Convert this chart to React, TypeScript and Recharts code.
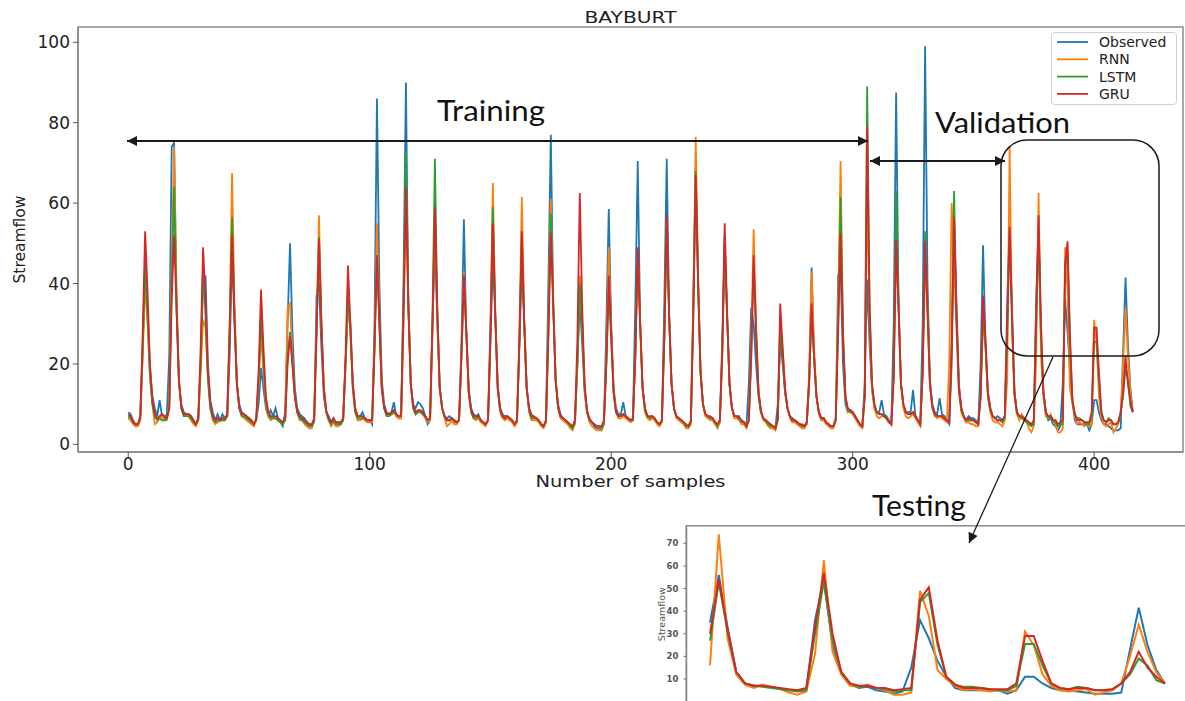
import React from "react";
import {
  LineChart,
  Line,
  XAxis,
  YAxis,
  Legend,
  Label,
  ReferenceArea,
} from "recharts";

// series names + colours (matplotlib tab10)
const SERIES = [
  { key: "obs", name: "Observed", color: "#1f77b4" },
  { key: "rnn", name: "RNN", color: "#ff7f0e" },
  { key: "lstm", name: "LSTM", color: "#2ca02c" },
  { key: "gru", name: "GRU", color: "#d62728" },
];

// training + validation part, samples 0..363 (12 per row)
const OBS_TRAIN = [
  8, 7.5, 6, 5, 5, 7, 24, 46, 33, 19, 12, 9,
  7, 11, 7, 6.5, 7.5, 22, 74, 75, 34, 15, 10, 8,
  7.5, 7.5, 7, 6, 5, 6.5, 20, 40, 42, 20, 11, 8,
  6, 7.5, 6, 7.5, 6.5, 7, 22, 48, 30, 15, 10, 8,
  7.5, 7, 6.5, 6, 5, 6, 10, 19, 14, 9, 7, 8.5,
  7, 9, 6.5, 5.5, 4.5, 8, 30, 50, 28, 14, 9, 7.5,
  7, 6.5, 5.5, 5, 4.5, 5.5, 37, 40, 24, 12, 8, 7,
  5.5, 6.5, 5, 5.5, 5, 6, 20, 35, 30, 15, 9, 7,
  7, 8, 6.5, 6, 6, 5, 30, 86, 40, 16, 10, 8,
  7.5, 8, 10.5, 7, 6.5, 6.5, 40, 90, 35, 15, 10, 9,
  10.5, 10, 9, 7, 5, 6, 30, 50, 30, 14, 9, 7,
  6.5, 7, 6.5, 5.5, 5.5, 6, 25, 56, 28, 14, 9, 7.5,
  7, 7.5, 6, 5.5, 5, 6, 25, 46, 32, 15, 9, 7.5,
  7, 7, 6, 6, 5, 5.5, 25, 45, 30, 14, 9, 7.5,
  6.5, 6.5, 6, 5, 4.5, 5.5, 40, 77, 35, 16, 10, 7.5,
  6.5, 6, 5.5, 4.5, 4, 6, 20, 36, 25, 13, 8, 6,
  5.5, 4.5, 4, 4, 3.5, 5, 30, 58.5, 30, 14, 9, 7.5,
  7.5, 10.5, 7, 6.5, 6, 6, 35, 70.5, 30, 14, 9, 7,
  6.5, 7, 6.5, 5.5, 5, 5.5, 35, 71, 32, 15, 9, 7,
  6.5, 6, 5.5, 4.5, 4.5, 5.5, 35, 69, 40, 18, 10, 7.5,
  7, 6.5, 6.5, 5.5, 4.5, 5.5, 25, 50, 32, 15, 9, 7,
  7, 7, 5.5, 5.5, 4.5, 15, 34, 30, 20, 12, 8, 6.5,
  6, 5.5, 4.5, 4.5, 4, 10, 26, 20, 13, 9, 7, 6.5,
  6, 5.5, 5, 4.5, 4.5, 5, 15, 44, 22, 12, 8, 6.5,
  6.5, 5.5, 5, 4.5, 4.5, 6, 42, 44, 20, 10, 8, 8.5,
  8, 7, 6, 5, 4.5, 15, 41, 25, 14, 9, 8, 8,
  11, 7.5, 7, 6, 5, 30, 87.5, 35, 15, 10, 8, 8,
  8, 13.5, 7, 6, 5, 30, 99, 40, 16, 10, 8, 7.5,
  11.5, 7.5, 7, 6, 5, 20, 55, 35, 15, 9, 7, 6,
  7, 6.5, 6.5, 6, 5, 20, 49.5, 25, 13, 9, 7, 6.5,
  7, 6.5, 6, 7,
];

const RNN_TRAIN = [
  6.5, 6, 5, 4.5, 4.5, 6, 22, 40, 30, 17, 10, 5,
  5.5, 6.5, 7, 6, 6, 10, 45, 74, 38, 16, 9, 7,
  7, 7, 6, 5, 4.5, 6, 18, 31, 29, 17, 9, 6,
  5, 5.5, 6, 6, 6, 7, 30, 67.5, 35, 15, 9, 7,
  6.5, 6, 5.5, 5, 4.5, 6, 15, 27, 18, 10, 7, 6,
  6.5, 6.5, 6, 5.5, 5, 6, 34, 35, 22, 12, 8, 6,
  6, 5, 4.5, 4, 4, 6, 30, 57, 30, 14, 8, 6,
  4.5, 5.5, 4.5, 4.5, 5, 6, 20, 35, 28, 14, 8, 6,
  6, 6.5, 6, 5.5, 5.5, 5.5, 25, 55, 32, 14, 9, 7,
  7, 7.5, 8, 7, 6.5, 6.5, 30, 62, 35, 15, 9, 7.5,
  8, 8, 7.5, 6.5, 5.5, 6, 28, 57, 32, 14, 9, 6.5,
  4.5, 5, 6, 5, 5, 6, 22, 43, 28, 13, 8, 6.5,
  6, 6.5, 5.5, 5, 4.5, 6, 30, 65, 33, 14, 8, 6.5,
  6, 6.5, 6, 5.5, 4.5, 5.5, 28, 61.5, 31, 14, 8, 6,
  6, 6, 5.5, 4.5, 4, 5.5, 30, 61, 36, 16, 9, 6.5,
  6, 5.5, 5, 4, 3.5, 5, 20, 42, 30, 14, 8, 5.5,
  4.5, 4, 3.5, 3.5, 3.5, 5, 22, 49, 28, 13, 8, 6.5,
  6.5, 7, 6.5, 6, 5.5, 6, 22, 47, 30, 14, 8, 6.5,
  6, 6.5, 6, 5, 4.5, 5.5, 26, 55, 32, 15, 9, 6.5,
  6, 5.5, 5, 4, 4, 5, 35, 76.5, 42, 18, 10, 7,
  6.5, 6, 6, 5, 4, 5.5, 22, 50, 32, 15, 9, 6.5,
  6.5, 6, 5, 5, 4, 6, 25, 53.5, 30, 14, 8, 6,
  5.5, 4.5, 4, 4, 3.5, 6, 31, 24, 14, 9, 6.5, 5.5,
  5.5, 5, 4.5, 4, 4, 5, 18, 43, 24, 12, 7.5, 6,
  6, 5, 4.5, 4, 4, 6, 35, 70.5, 28, 12, 8, 8,
  7.5, 6.5, 5.5, 4.5, 4, 12, 65, 30, 14, 9, 7, 6.5,
  7, 7, 6.5, 5.5, 5, 18, 48, 35, 15, 9, 7, 6.5,
  7, 7.5, 6.5, 5.5, 4.5, 18, 45, 34, 15, 9, 7, 6.5,
  7, 6.5, 6, 5.5, 20, 60, 45, 28, 13, 8, 6.5, 5.5,
  5.5, 5, 5, 4.5, 4.5, 12, 31, 24, 12, 8, 6, 5.5,
  5.5, 5, 4.5, 6,
];

const LSTM_TRAIN = [
  7, 6.5, 5.5, 5, 5, 6.5, 24, 44, 32, 17, 10, 7,
  6, 6.5, 6, 6, 6.5, 9, 40, 64, 35, 16, 9, 7,
  7, 7, 6.5, 5.5, 5, 6, 20, 44, 32, 16, 9, 6.5,
  5.5, 6, 6, 6, 6, 7, 28, 56.5, 32, 15, 9, 7,
  7, 6.5, 6, 5.5, 5, 6, 17, 32, 20, 11, 7.5, 6.5,
  6.5, 6.5, 6, 5.5, 5, 6, 22, 28, 20, 12, 8, 6.5,
  6, 5.5, 5, 4.5, 4.5, 6, 28, 51.5, 30, 14, 8, 6,
  5, 6, 5, 5, 5, 6, 20, 38, 28, 14, 8, 6.5,
  6.5, 6.5, 6.5, 6, 6, 6, 24, 47, 30, 14, 9, 7,
  7, 7.5, 8, 7.5, 7, 7, 35, 73, 36, 15, 9, 7.5,
  8, 8, 7.5, 7, 6, 6.5, 32, 71, 34, 14, 9, 7,
  6, 6, 6.5, 6, 5.5, 6, 22, 42, 28, 13, 8, 6.5,
  6.5, 7, 6, 5.5, 5, 6, 28, 59, 32, 14, 8.5, 7,
  6.5, 7, 6.5, 6, 5, 6, 25, 52, 30, 14, 8.5, 6.5,
  6.5, 6.5, 6, 5, 4.5, 6, 28, 57.5, 35, 16, 9, 7,
  6.5, 6, 5.5, 4.5, 4, 5.5, 20, 40, 30, 14, 8, 6,
  5.5, 5, 4.5, 4.5, 4, 5.5, 20, 38, 26, 13, 8, 7,
  7, 7.5, 7, 6.5, 6, 6, 22, 48, 30, 14, 8.5, 7,
  6.5, 7, 6.5, 5.5, 5, 6, 26, 55, 32, 15, 9, 7,
  6.5, 6, 5.5, 4.5, 4.5, 5.5, 32, 68, 40, 18, 10, 7.5,
  7, 6.5, 6.5, 5.5, 4.5, 6, 22, 52, 32, 15, 9, 7,
  7, 6.5, 5.5, 5.5, 4.5, 6, 22, 45, 28, 13, 8, 6.5,
  6, 5, 4.5, 4.5, 4, 6, 28, 22, 13, 9, 7, 6,
  6, 5.5, 5, 4.5, 4.5, 5.5, 16, 32, 22, 12, 8, 6.5,
  6.5, 5.5, 5, 4.5, 4.5, 6, 30, 61.5, 28, 12, 8.5, 8,
  8, 7, 6, 5, 4.5, 12, 89, 35, 15, 10, 8, 7.5,
  7.5, 7, 6.5, 5.5, 5, 18, 63, 35, 15, 10, 8, 7.5,
  7.5, 8, 7, 6, 5, 18, 53, 34, 15, 9, 7.5, 7,
  7, 7, 6.5, 6, 5.5, 25, 63, 32, 14, 8.5, 7, 6,
  6, 6, 6, 5.5, 5, 12, 33, 25, 12, 8.5, 7, 6.5,
  6, 6, 5.5, 6.5,
];

const GRU_TRAIN = [
  7.5, 7, 5.5, 5, 5, 7, 28, 53, 38, 20, 11, 7.5,
  6.5, 7, 7.5, 7, 6.5, 9, 36, 52, 34, 16, 9, 7.5,
  7.5, 7.5, 7, 6, 5, 6.5, 24, 49, 36, 18, 10, 7,
  6, 6.5, 6, 6.5, 6.5, 7.5, 28, 52, 32, 15, 9, 7.5,
  7.5, 7, 6.5, 6, 5, 6.5, 18, 38.5, 24, 12, 8, 7,
  7, 7, 6.5, 6, 5.5, 6.5, 20, 27, 20, 12, 8, 7,
  6.5, 6, 5.5, 5, 5, 6.5, 28, 51, 30, 14, 8.5, 6.5,
  5.5, 6.5, 5.5, 5.5, 5.5, 6.5, 22, 44.5, 30, 15, 9, 7,
  7, 7, 6.5, 6, 6, 6, 24, 47, 30, 14, 9, 7.5,
  7.5, 8, 8.5, 7.5, 7, 7, 32, 64, 34, 15, 9.5, 8,
  8.5, 8.5, 8, 7, 6, 6.5, 30, 59, 33, 14, 9, 7,
  6, 6, 6.5, 6, 5.5, 6, 22, 42, 28, 13, 8.5, 7,
  7, 7, 6, 5.5, 5, 6, 27, 55, 32, 14, 9, 7,
  6.5, 7, 6.5, 6, 5, 6, 26, 53, 30, 14, 9, 7,
  7, 6.5, 6, 5, 4.5, 6, 27, 52.6, 34, 16, 9.5, 7,
  6.5, 6, 5.5, 5, 4.5, 6, 26, 62.5, 34, 15, 8.5, 6.5,
  5.5, 5, 4.5, 4.5, 4.5, 6, 20, 42, 28, 13, 8, 7,
  7, 7.5, 7, 6.5, 6, 6.5, 22, 49, 30, 14, 9, 7,
  7, 7, 6.5, 5.5, 5, 6, 27, 57, 32, 15, 9, 7,
  6.5, 6, 5.5, 5, 4.5, 6, 32, 67, 40, 18, 10, 7.5,
  7, 7, 6.5, 5.5, 5, 6, 24, 55, 33, 15, 9, 7,
  7, 6.5, 6, 5.5, 4.5, 6, 22, 47, 28, 13, 8.5, 6.5,
  6, 5.5, 5, 4.5, 4, 6.5, 35, 24, 14, 9, 7, 6,
  6, 5.5, 5, 5, 4.5, 5.5, 16, 35, 22, 12, 8, 6.5,
  6.5, 5.5, 5, 4.5, 4.5, 6.5, 28, 52.5, 26, 12, 9, 8.5,
  8, 7, 6, 5, 4.5, 12, 79, 34, 15, 10, 8, 7.5,
  7.5, 7, 6.5, 5.5, 5, 16, 51, 34, 15, 10, 8, 7.5,
  7.5, 8, 7, 6, 5, 18, 50.5, 33, 15, 9.5, 7.5, 7,
  7, 7, 6.5, 6, 5.5, 24, 56.5, 32, 14, 9, 7, 6,
  6.5, 6, 6, 5.5, 5, 12, 37, 26, 13, 9, 7, 6.5,
  6, 6, 6, 7,
];

// testing part, samples 364..416 (also shown in the inset)
const OBS_TEST = [
  35, 56, 33, 13, 8, 7, 7, 6.5, 5.5, 5, 5, 5, 36, 54, 25, 13, 8, 6, 6.5, 5,
  4.5, 3.5, 4.5, 15, 36, 28, 18, 11, 6, 5, 5, 5, 5, 5, 3.5, 5, 11, 11, 8, 6,
  5, 5, 4.5, 4, 3.5, 3.5, 3.5, 4, 23, 41.5, 25, 14, 8,
];
const RNN_TEST = [
  16, 74, 28, 12, 7.5, 6, 7.5, 6.5, 5.5, 4, 3, 4.5, 21, 62.5, 22, 12, 7, 6.5, 7.5, 6,
  5, 3, 3, 4, 49, 38, 14, 10, 7, 5, 5.5, 5, 4.5, 5, 4.5, 5, 31, 25, 12, 7,
  5, 4.5, 5, 5.5, 3, 4, 5, 8, 20, 34, 22, 13, 8,
];
const LSTM_TEST = [
  27, 53, 31, 13, 8, 7, 6.5, 6, 5.5, 5, 4.5, 5, 30, 53, 27, 13, 8, 6.5, 7, 6,
  5.5, 4.5, 5, 5, 44, 48, 25, 11, 7.5, 6.5, 6.5, 6, 5.5, 5, 5, 7, 25.5, 25.5, 16, 8,
  6, 5.5, 6.5, 6, 5, 5, 5.5, 8, 12, 19, 16, 9.5, 8,
];
const GRU_TEST = [
  30, 54, 32, 13, 8, 7, 7, 6.5, 6, 5.5, 5, 6, 33, 57, 30, 13, 8, 7, 7, 6,
  6, 5, 5.5, 6, 45, 50.5, 27, 11, 7.5, 6, 6, 6, 5.5, 5.5, 5.5, 8, 29, 29, 18, 8,
  6, 5.5, 6, 6, 5, 5, 5.5, 8, 13, 22, 15, 11, 8,
];

const X_TICKS = [0, 100, 200, 300, 400];
const Y_TICKS = [0, 20, 40, 60, 80, 100];
const INSET_Y_TICKS = [0, 10, 20, 30, 40, 50, 60, 70];

const OBS = [...OBS_TRAIN, ...OBS_TEST];
const RNN = [...RNN_TRAIN, ...RNN_TEST];
const LSTM = [...LSTM_TRAIN, ...LSTM_TEST];
const GRU = [...GRU_TRAIN, ...GRU_TEST];

const mainData = OBS.map((v, i) => ({ x: i, obs: v, rnn: RNN[i], lstm: LSTM[i], gru: GRU[i] }));
const testData = OBS_TEST.map((v, i) => ({
  x: i,
  obs: v,
  rnn: RNN_TEST[i],
  lstm: LSTM_TEST[i],
  gru: GRU_TEST[i],
}));

const FONT = "DejaVu Sans";
const SPINE = "#8a8a8a";
const X_DOMAIN: [number, number] = [-20.8, 436.8];
const Y_DOMAIN: [number, number] = [-1.9, 103.8];
const IX_DOMAIN: [number, number] = [-2.7, 54.9];
const IY_DOMAIN: [number, number] = [-0.5, 77.8];

const LegendBox = () => (
  <svg width={127} height={74} style={{ display: "block" }}>
    <rect x={0.5} y={0.5} width={125} height={72} rx={3} fill="#fff" stroke="#d0d0d0" />
    {SERIES.map((s, i) => (
      <g key={s.key}>
        <line x1={6} x2={37} y1={10 + i * 17.3} y2={10 + i * 17.3} stroke={s.color} strokeWidth={1.8} />
        <text x={48} y={15 + i * 17.3} fontSize={14} fontFamily={FONT} fill="#222">
          {s.name}
        </text>
      </g>
    ))}
  </svg>
);

export default function App() {
  return (
    <div
      style={{
        position: "absolute",
        left: 0,
        top: 0,
        width: 1185,
        height: 701,
        overflow: "hidden",
        background: "#fff",
      }}
    >
      <div style={{ position: "absolute", left: 0, top: 0 }}>
        <LineChart width={1185} height={500} data={mainData} margin={{ top: 27, right: 2, bottom: 0, left: 0 }}>
          <XAxis
            dataKey="x"
            type="number"
            domain={X_DOMAIN}
            allowDataOverflow
            ticks={X_TICKS}
            height={48}
            tickSize={5}
            tickMargin={1}
            axisLine={{ stroke: SPINE, strokeWidth: 1.5 }}
            tickLine={{ stroke: "#555" }}
            tick={{ fontSize: 17, fill: "#222", fontFamily: FONT }}
          >
            <Label
              content={(p: any) => (
                <text
                  x={p.viewBox.x + p.viewBox.width / 2}
                  y={p.viewBox.y + 35}
                  textAnchor="middle"
                  fontSize={15}
                  fontFamily={FONT}
                  fill="#222"
                  textLength={190}
                  lengthAdjust="spacingAndGlyphs"
                >
                  Number of samples
                </text>
              )}
            />
          </XAxis>
          <YAxis
            type="number"
            domain={Y_DOMAIN}
            allowDataOverflow
            ticks={Y_TICKS}
            width={78}
            tickSize={5}
            tickMargin={3}
            axisLine={{ stroke: SPINE, strokeWidth: 1.5 }}
            tickLine={{ stroke: "#555" }}
            tick={{ fontSize: 17, fill: "#222", fontFamily: FONT }}
          >
            <Label
              content={(p: any) => {
                const cx = p.viewBox.x + 20;
                const cy = p.viewBox.y + p.viewBox.height / 2;
                return (
                  <text
                    x={cx}
                    y={cy}
                    transform={`rotate(-90 ${cx} ${cy})`}
                    textAnchor="middle"
                    dominantBaseline="central"
                    fontSize={15}
                    fontFamily={FONT}
                    fill="#222"
                    textLength={88}
                    lengthAdjust="spacingAndGlyphs"
                  >
                    Streamflow
                  </text>
                );
              }}
            />
          </YAxis>
          {/* plot frame + title */}
          <ReferenceArea
            x1={X_DOMAIN[0]}
            x2={X_DOMAIN[1]}
            y1={Y_DOMAIN[0]}
            y2={Y_DOMAIN[1]}
            ifOverflow="visible"
            fill="none"
            fillOpacity={0}
            stroke={SPINE}
            strokeWidth={1.5}
          >
            <Label
              content={(p: any) => (
                <text
                  x={p.viewBox.x + p.viewBox.width / 2}
                  y={p.viewBox.y - 4.5}
                  textAnchor="middle"
                  fontSize={15}
                  fontFamily={FONT}
                  fill="#222"
                  textLength={92}
                  lengthAdjust="spacingAndGlyphs"
                >
                  BAYBURT
                </text>
              )}
            />
          </ReferenceArea>
          {SERIES.map((s) => (
            <Line
              key={s.key}
              dataKey={s.key}
              name={s.name}
              type="linear"
              stroke={s.color}
              strokeWidth={1.8}
              dot={false}
              isAnimationActive={false}
            />
          ))}
          <Legend
            layout="vertical"
            align="center"
            verticalAlign="middle"
            content={() => <LegendBox />}
            wrapperStyle={{ left: 1051, top: 32, width: 127, height: 74 }}
          />
        </LineChart>
      </div>

      {/* inset: testing period */}
      <div style={{ position: "absolute", left: 620, top: 515 }}>
        <LineChart width={570.4} height={187.7} data={testData} margin={{ top: 10.7, right: 0, bottom: 0, left: 0 }}>
          <XAxis dataKey="x" type="number" domain={IX_DOMAIN} allowDataOverflow hide />
          <YAxis
            type="number"
            domain={IY_DOMAIN}
            allowDataOverflow
            ticks={INSET_Y_TICKS}
            width={66.4}
            tickSize={3}
            tickMargin={5}
            axisLine={{ stroke: SPINE, strokeWidth: 1.5 }}
            tickLine={{ stroke: "#777" }}
            tick={{ fontSize: 8.5, fill: "#555", fontFamily: FONT, fontWeight: 600 }}
          >
            <Label
              content={(p: any) => {
                const cx = p.viewBox.x + 41.5;
                const cy = p.viewBox.y + p.viewBox.height / 2;
                return (
                  <text
                    x={cx}
                    y={cy}
                    transform={`rotate(-90 ${cx} ${cy})`}
                    textAnchor="middle"
                    dominantBaseline="central"
                    fontSize={9.5}
                    fontFamily={FONT}
                    fill="#555"
                  >
                    Streamflow
                  </text>
                );
              }}
            />
          </YAxis>
          <ReferenceArea
            x1={IX_DOMAIN[0]}
            x2={IX_DOMAIN[1]}
            y1={IY_DOMAIN[0]}
            y2={IY_DOMAIN[1]}
            ifOverflow="visible"
            fill="none"
            fillOpacity={0}
            stroke={SPINE}
            strokeWidth={1.5}
          />
          {SERIES.map((s) => (
            <Line
              key={s.key}
              dataKey={s.key}
              name={s.name}
              type="linear"
              stroke={s.color}
              strokeWidth={2}
              dot={false}
              isAnimationActive={false}
            />
          ))}
        </LineChart>
      </div>

      {/* figure annotations drawn over both charts */}
      <svg
        width={1185}
        height={701}
        style={{ position: "absolute", left: 0, top: 0, pointerEvents: "none" }}
      >
        <defs>
          <marker
            id="head"
            viewBox="0 0 10 10"
            refX={10}
            refY={5}
            markerWidth={12}
            markerHeight={10}
            markerUnits="userSpaceOnUse"
            orient="auto-start-reverse"
          >
            <path d="M0,0 L10,5 L0,10 z" fill="#1a1a1a" />
          </marker>
        </defs>
        <line x1={127} y1={141} x2={868} y2={141} stroke="#1a1a1a" strokeWidth={1.8} markerStart="url(#head)" markerEnd="url(#head)" />
        <line x1={870} y1={161} x2={1005} y2={161} stroke="#1a1a1a" strokeWidth={1.8} markerStart="url(#head)" markerEnd="url(#head)" />
        <rect x={1001} y={140} width={158} height={216} rx={26} fill="none" stroke="#1a1a1a" strokeWidth={1.5} />
        <line x1={1053} y1={357} x2={969} y2={543} stroke="#1a1a1a" strokeWidth={1.3} markerEnd="url(#head)" />
        <text x={437} y={121} fontSize={29} fontFamily="Lato" fill="#111" textLength={108} lengthAdjust="spacingAndGlyphs">
          Training
        </text>
        <text x={935} y={133} fontSize={29} fontFamily="Lato" fill="#111" textLength={135} lengthAdjust="spacingAndGlyphs">
          Validation
        </text>
        <text x={872} y={516} fontSize={29} fontFamily="Lato" fill="#111" textLength={94} lengthAdjust="spacingAndGlyphs">
          Testing
        </text>
      </svg>
    </div>
  );
}
